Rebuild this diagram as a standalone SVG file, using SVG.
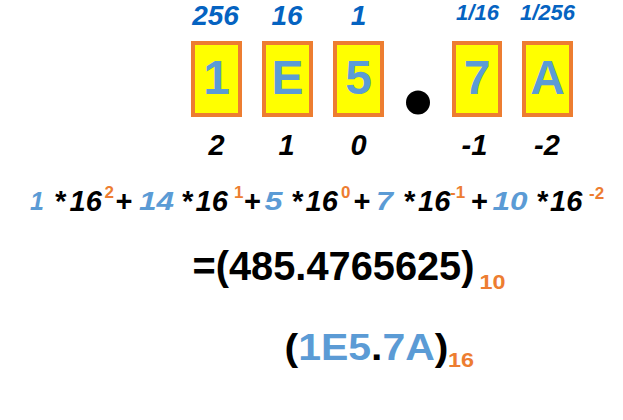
<svg xmlns="http://www.w3.org/2000/svg" width="623" height="420" viewBox="0 0 623 420">
<style>
  text { font-family: "Liberation Sans", Arial, sans-serif; font-weight: bold; }
  .box { fill: #FFFF00; stroke: #ED7D31; stroke-width: 4; }
  .digit { font-size: 48px; fill: #5B9BD5; text-anchor: middle; }
  .w { font-size: 28px; font-style: italic; fill: #0563C1; text-anchor: middle; }
  .ws { font-size: 22px; font-style: italic; fill: #0563C1; text-anchor: middle; }
  .p { font-size: 29px; font-style: italic; fill: #000; text-anchor: middle; }
  .blk { font-size: 29px; font-style: italic; fill: #000; }
  .blu { font-size: 25px; font-style: italic; fill: #5B9BD5; }
  .sup { font-size: 17px; fill: #ED7D31; }
  .sub { font-size: 21px; fill: #ED7D31; }
</style>
<rect width="623" height="420" fill="#FFFFFF"/>
<g id="weights">
  <text class="w" x="215.5" y="25">256</text>
  <text class="w" x="287" y="25">16</text>
  <text class="w" x="358.5" y="25">1</text>
  <text class="ws" x="477.5" y="19.5">1/16</text>
  <text class="ws" x="547.5" y="19.5">1/256</text>
</g>
<g id="node-1">
  <rect class="box" x="193" y="43" width="47" height="72"/>
  <text class="digit" x="216.5" y="94">1</text>
</g>
<g id="node-E">
  <rect class="box" x="264" y="43" width="47" height="72"/>
  <text class="digit" x="287.5" y="94">E</text>
</g>
<g id="node-5">
  <rect class="box" x="335" y="43" width="47" height="72"/>
  <text class="digit" x="358.5" y="94">5</text>
</g>
<g id="node-point">
  <circle cx="418" cy="102.5" r="12" fill="#000"/>
</g>
<g id="node-7">
  <rect class="box" x="454" y="43" width="46" height="72"/>
  <text class="digit" x="477" y="94">7</text>
</g>
<g id="node-A">
  <rect class="box" x="524" y="43" width="47" height="72"/>
  <text class="digit" x="547.5" y="94">A</text>
</g>
<g id="positions">
  <text class="p" x="216.5" y="155">2</text>
  <text class="p" x="286.5" y="155">1</text>
  <text class="p" x="358.5" y="155">0</text>
  <text class="p" x="474.5" y="155">-1</text>
  <text class="p" x="547" y="155">-2</text>
</g>
<g id="expansion">
  <text class="blu" x="30" y="210">1</text>
  <text class="blk" x="54" y="211">*</text>
  <text class="blk" x="69.5" y="211">16</text>
  <text class="sup" x="104.5" y="198">2</text>
  <text class="blk" x="115" y="211">+</text>
  <text class="blu" x="139" y="210" textLength="35" lengthAdjust="spacingAndGlyphs">14</text>
  <text class="blk" x="181" y="211">*</text>
  <text class="blk" x="195.5" y="211">16</text>
  <text class="sup" x="234" y="198">1</text>
  <text class="blk" x="243.5" y="211">+</text>
  <text class="blu" x="264.5" y="210" textLength="18" lengthAdjust="spacingAndGlyphs">5</text>
  <text class="blk" x="291" y="211">*</text>
  <text class="blk" x="305.5" y="211">16</text>
  <text class="sup" x="341" y="198">0</text>
  <text class="blk" x="353" y="211">+</text>
  <text class="blu" x="376" y="210" textLength="17" lengthAdjust="spacingAndGlyphs">7</text>
  <text class="blk" x="403" y="211">*</text>
  <text class="blk" x="418" y="211">16</text>
  <text class="sup" x="450" y="198">-1</text>
  <text class="blk" x="470.5" y="211">+</text>
  <text class="blu" x="492.5" y="210" textLength="35" lengthAdjust="spacingAndGlyphs">10</text>
  <text class="blk" x="536" y="211">*</text>
  <text class="blk" x="550" y="211">16</text>
  <text class="sup" x="589" y="198.5">-2</text>
</g>
<g id="decimal-result">
  <text x="192.5" y="280" font-size="41" fill="#000" textLength="282" lengthAdjust="spacingAndGlyphs">=(485.4765625)</text>
  <text class="sub" x="479.5" y="289" textLength="26" lengthAdjust="spacingAndGlyphs">10</text>
</g>
<g id="hex-number">
  <text x="284.5" y="360" font-size="37" textLength="164" lengthAdjust="spacingAndGlyphs"><tspan fill="#000">(</tspan><tspan fill="#5B9BD5">1E5</tspan><tspan fill="#000">.</tspan><tspan fill="#5B9BD5">7A</tspan><tspan fill="#000">)</tspan></text>
  <text class="sub" x="448" y="366.5" textLength="26" lengthAdjust="spacingAndGlyphs">16</text>
</g>
</svg>
